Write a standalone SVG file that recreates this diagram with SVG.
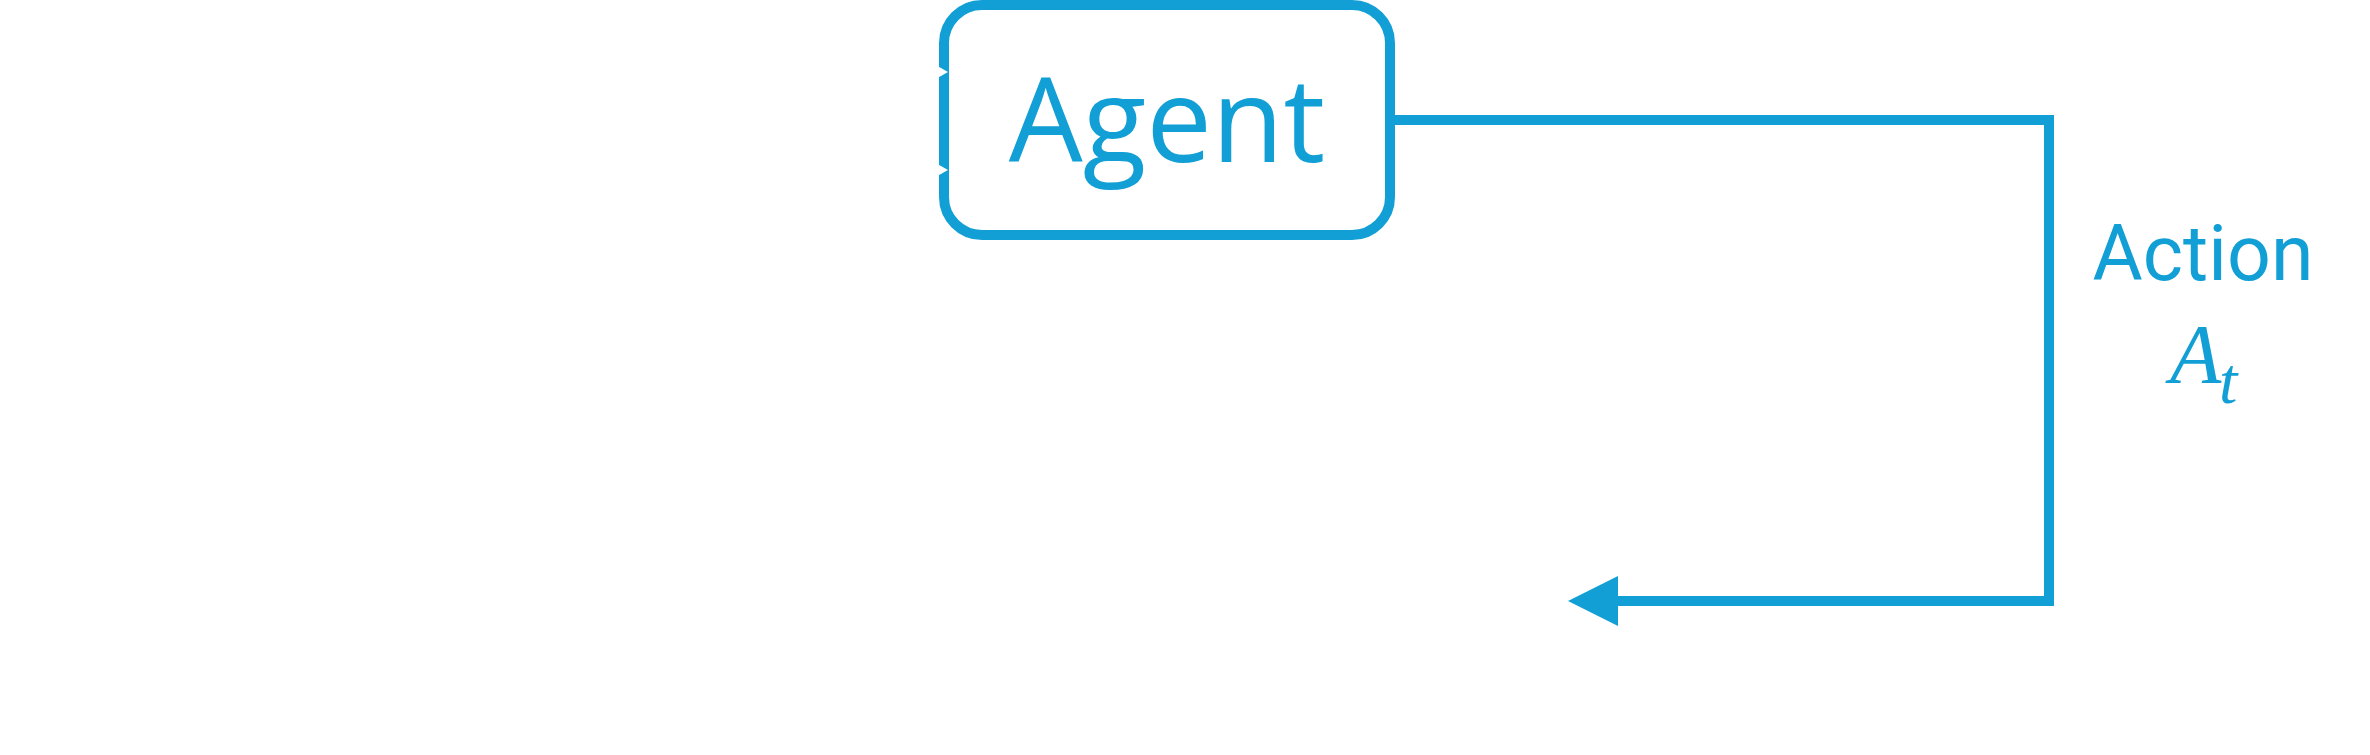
<svg xmlns="http://www.w3.org/2000/svg" width="2370" height="755" viewBox="0 0 2370 755">
<style>
.stroke{fill:none;stroke:#119fd6;stroke-width:10}
.lbl{fill:#119fd6;font-family:Roboto,"Liberation Sans",Arial,sans-serif}
.math{fill:#119fd6;font-family:"Liberation Serif","Times New Roman",serif;font-style:italic}
</style>
<rect width="2370" height="755" fill="#ffffff"/>
<g id="agent">
<rect class="stroke" x="944" y="5" width="446" height="230" rx="38" ry="38"/>
<text x="1167" y="162" text-anchor="middle" font-family="'Open Sans','Noto Sans',sans-serif" font-size="117" fill="#119fd6">Agent</text>
</g>
<g id="connectors">
<path class="stroke" d="M1390,120 H2049 V601 H1612"/>
<polygon points="1568,601 1618,576 1618,626" fill="#119fd6"/>
<polygon points="925,59 948,72 925,85" fill="#ffffff"/>
<polygon points="925,157 948,170 925,183" fill="#ffffff"/>
</g>
<g id="action-label">
<text class="lbl" x="2203" y="280" text-anchor="middle" font-size="77">Action</text>
<text class="math" x="2170" y="383" font-size="84">A</text>
<text class="math" x="2219" y="403" font-size="66">t</text>
</g>
</svg>
